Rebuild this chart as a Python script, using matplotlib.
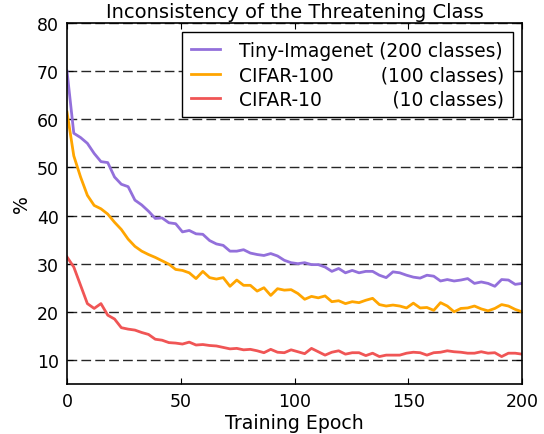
import numpy as np
import matplotlib
matplotlib.use("Agg")
import matplotlib.pyplot as plt

tiny = [70.0, 57.1, 56.2, 55.0, 52.9, 51.2, 51.0, 48.0, 46.5, 46.0, 43.2, 42.2, 40.9, 39.4, 39.5, 38.5, 38.3,
        36.6, 36.9, 36.2, 36.1, 34.8, 34.1, 33.8, 32.6, 32.6, 32.9, 32.2, 31.9, 31.7, 32.1, 31.6, 30.7, 30.2,
        30.0, 30.2, 29.8, 29.8, 29.3, 28.4, 29.0, 28.1, 28.6, 28.1, 28.4, 28.4, 27.6, 27.1, 28.3, 28.1, 27.6,
        27.2, 27.0, 27.6, 27.4, 26.4, 26.7, 26.4, 26.6, 26.9, 25.9, 26.2, 25.9, 25.3, 26.7, 26.6, 25.7, 25.9]
cifar100 = [61.5, 52.4, 48.0, 44.2, 42.1, 41.4, 40.3, 38.6, 37.1, 35.1, 33.6, 32.6, 31.9, 31.3, 30.6, 29.9,
            28.8, 28.6, 28.1, 26.9, 28.4, 27.1, 26.8, 27.1, 25.3, 26.6, 25.5, 25.5, 24.3, 25.0, 23.4, 24.8, 24.5, 24.6,
            23.8, 22.6, 23.2, 22.9, 23.3, 22.1, 22.3, 21.7, 22.1, 21.9, 22.4, 22.8, 21.5, 21.2, 21.4, 21.2, 20.8,
            21.8, 20.8, 20.9, 20.3, 21.9, 21.2, 20.0, 20.7, 20.8, 21.2, 20.6, 20.2, 20.7, 21.5, 21.2, 20.5, 20.0]
cifar10 = [31.4, 29.3, 25.5, 21.7, 20.7, 21.7, 19.3, 18.5, 16.7, 16.4, 16.2, 15.7, 15.3, 14.3, 14.1, 13.6,
           13.5, 13.3, 13.7, 13.1, 13.2, 13.0, 12.9, 12.6, 12.3, 12.4, 12.1, 12.2, 11.9, 11.5, 12.2, 11.6, 11.5, 12.1,
           11.7, 11.3, 12.4, 11.7, 11.0, 11.6, 11.9, 11.2, 11.5, 11.5, 10.9, 11.4, 10.7, 11.0, 11.0, 11.0, 11.4,
           11.6, 11.5, 11.0, 11.5, 11.6, 11.9, 11.7, 11.6, 11.4, 11.4, 11.7, 11.4, 11.5, 10.7, 11.4, 11.4, 11.2]
epochs = np.linspace(0, 200, len(tiny))

labels = ["Tiny-Imagenet (200 classes)",
          "CIFAR-100        (100 classes)",
          "CIFAR-10            (10 classes)"]
colors = ["#9370DB", "#FFA500", "#F05555"]

plt.rcParams['font.family'] = ['DejaVu Sans']
fig = plt.figure(figsize=(5.44, 4.35), dpi=100)
ax = fig.add_axes([67/544, 1 - 385/435, (522-67)/544, (385-24)/435])

for y, lab, c in zip([tiny, cifar100, cifar10], labels, colors):
    ax.plot(epochs, y, color=c, lw=2, label=lab)

ax.set_xlim(0, 200)
ax.set_ylim(5, 80)
ax.set_xticks([0, 50, 100, 150, 200])
ax.set_yticks([10, 20, 30, 40, 50, 60, 70, 80])
ax.yaxis.grid(True, color='black', linestyle=(0, (7, 3)), linewidth=1, alpha=0.85)
ax.tick_params(direction='in', top=True, right=True, labelsize=12.5, length=4, pad=6)
for s in ax.spines.values():
    s.set_linewidth(1.2)
ax.set_xlabel("Training Epoch", fontsize=13.6, labelpad=2)
ax.set_ylabel("%", fontsize=13.6)
ax.set_title("Inconsistency of the Threatening Class", fontsize=14, pad=4)
leg = ax.legend(loc='upper right', fontsize=13.4, fancybox=False, edgecolor='black',
                framealpha=1, handlelength=1.6, handletextpad=1.0, borderaxespad=0.5,
                labelspacing=0.3, borderpad=0.45)
leg.get_frame().set_linewidth(1.0)
fig.savefig("out.png", dpi=100)
